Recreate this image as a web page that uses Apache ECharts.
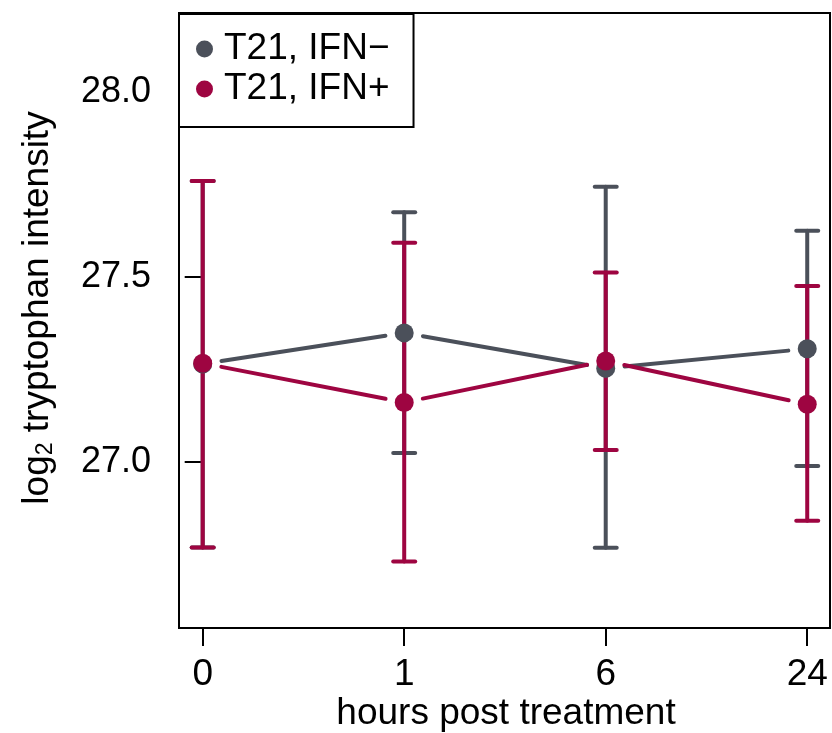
<!DOCTYPE html>
<html>
<head>
<meta charset="utf-8">
<script src="https://cdn.jsdelivr.net/npm/echarts@6/dist/echarts.min.js"></script>
<style>
  html, body { margin: 0; padding: 0; background: #fff; }
  #chart { width: 832px; height: 733px; }
</style>
</head>
<body>
<div id="chart"></div>
<script>
// hours post treatment, placed at evenly spaced positions 0..3
var hours = ['0', '1', '6', '24']
var positions = [0, 1, 2, 3]

// T21, IFN− (grey)
var minusMean = [27.265, 27.349, 27.253, 27.306]
var minusLow = [26.769, 27.024, 26.768, 26.989]
var minusHigh = [27.760, 27.675, 27.744, 27.625]

// T21, IFN+ (red)
var plusMean = [27.267, 27.161, 27.273, 27.156]
var plusLow = [26.769, 26.731, 27.032, 26.841]
var plusHigh = [27.760, 27.593, 27.512, 27.476]

var yTicks = [27.0, 27.5, 28.0]

var GREY = '#4b505a'
var RED = '#9e0541'
var FONT = 'Liberation Sans, Arial, Helvetica, sans-serif'

var chart = echarts.init(document.getElementById('chart'))

// line segments between neighbouring means, with a gap around each point
function segmentsOf(mean) {
  var out = []
  for (var i = 0; i < mean.length - 1; i++) {
    out.push([positions[i], mean[i], positions[i + 1], mean[i + 1]])
  }
  return out
}

function renderSegment(color) {
  return function(params, api) {
    var a = api.coord([api.value(0), api.value(1)])
    var b = api.coord([api.value(2), api.value(3)])
    var dx = b[0] - a[0]
    var dy = b[1] - a[1]
    var len = Math.sqrt(dx * dx + dy * dy)
    var gap = 19
    var ux = dx / len
    var uy = dy / len
    return {
      type: 'line',
      shape: {
        x1: a[0] + ux * gap, y1: a[1] + uy * gap,
        x2: b[0] - ux * gap, y2: b[1] - uy * gap
      },
      style: { stroke: color, lineWidth: 4, lineCap: 'round' }
    }
  }
}

function renderErrorBar(color) {
  return function(params, api) {
    var lo = api.coord([api.value(0), api.value(1)])
    var hi = api.coord([api.value(0), api.value(2)])
    var half = 11
    var style = { stroke: color, lineWidth: 4, lineCap: 'round' }
    return {
      type: 'group',
      children: [
        { type: 'line', shape: { x1: lo[0], y1: lo[1], x2: hi[0], y2: hi[1] }, style: style },
        { type: 'line', shape: { x1: lo[0] - half, y1: lo[1], x2: lo[0] + half, y2: lo[1] }, style: style },
        { type: 'line', shape: { x1: hi[0] - half, y1: hi[1], x2: hi[0] + half, y2: hi[1] }, style: style }
      ]
    }
  }
}

function barsOf(low, high) {
  return positions.map(function(x, i) { return [x, low[i], high[i]] })
}

function pointsOf(mean) {
  return positions.map(function(x, i) { return [x, mean[i]] })
}

var option = {
  animation: false,
  backgroundColor: '#fff',
  textStyle: { fontFamily: FONT },
  grid: {
    left: 179,
    right: 2,
    top: 13,
    bottom: 105,
    show: true,
    borderColor: '#000',
    borderWidth: 2,
    backgroundColor: 'transparent'
  },
  legend: {
    data: ['T21, IFN\u2212', 'T21, IFN+'],
    orient: 'vertical',
    left: 179,
    top: 14,
    icon: 'circle',
    itemWidth: 17,
    itemHeight: 17,
    itemGap: 0,
    padding: [15, 24, 18, 17],
    backgroundColor: '#fff',
    borderColor: '#000',
    borderWidth: 2,
    borderRadius: 0,
    selectedMode: false,
    textStyle: {
      fontFamily: FONT,
      fontSize: 37,
      lineHeight: 40,
      color: '#000',
      padding: [0, 0, 0, 6]
    }
  },
  xAxis: {
    type: 'value',
    min: -0.1176,
    max: 3.113,
    splitLine: { show: false },
    axisLine: { show: false },
    axisTick: {
      show: true,
      length: 18,
      customValues: positions,
      lineStyle: { color: '#000', width: 2 }
    },
    axisLabel: {
      customValues: positions,
      margin: 28,
      fontFamily: FONT,
      fontSize: 37,
      color: '#000',
      formatter: function(v) { return hours[Math.round(v)] }
    }
  },
  yAxis: {
    type: 'value',
    min: 26.551,
    max: 28.214,
    splitLine: { show: false },
    axisLine: { show: false },
    axisTick: {
      show: true,
      length: 18,
      customValues: yTicks,
      lineStyle: { color: '#000', width: 2 }
    },
    axisLabel: {
      customValues: yTicks,
      margin: 28,
      fontFamily: FONT,
      fontSize: 36,
      color: '#000',
      formatter: function(v) { return v.toFixed(1) }
    }
  },
  graphic: [
    {
      type: 'text',
      x: 506,
      y: 714,
      style: {
        text: 'hours post treatment',
        fontFamily: FONT,
        fontSize: 37,
        fill: '#000',
        align: 'center',
        verticalAlign: 'middle'
      }
    },
    {
      type: 'text',
      x: 38,
      y: 308,
      rotation: Math.PI / 2,
      style: {
        text: '{a|log}{s|2}{a| tryptophan intensity}',
        align: 'center',
        verticalAlign: 'middle',
        rich: {
          a: { fontFamily: FONT, fontSize: 37, fill: '#000', lineHeight: 40 },
          s: { fontFamily: FONT, fontSize: 23, fill: '#000', lineHeight: 40, padding: [16, 0, 0, 0] }
        }
      }
    }
  ],
  series: [
    {
      type: 'custom',
      name: 'minus-line',
      renderItem: renderSegment(GREY),
      data: segmentsOf(minusMean),
      encode: { x: [0, 2], y: [1, 3] },
      silent: true
    },
    {
      type: 'custom',
      name: 'minus-err',
      renderItem: renderErrorBar(GREY),
      data: barsOf(minusLow, minusHigh),
      encode: { x: 0, y: [1, 2] },
      silent: true
    },
    {
      type: 'scatter',
      name: 'T21, IFN\u2212',
      data: pointsOf(minusMean),
      symbol: 'circle',
      symbolSize: 19,
      itemStyle: { color: GREY, opacity: 1 },
      silent: true
    },
    {
      type: 'custom',
      name: 'plus-line',
      renderItem: renderSegment(RED),
      data: segmentsOf(plusMean),
      encode: { x: [0, 2], y: [1, 3] },
      silent: true
    },
    {
      type: 'custom',
      name: 'plus-err',
      renderItem: renderErrorBar(RED),
      data: barsOf(plusLow, plusHigh),
      encode: { x: 0, y: [1, 2] },
      silent: true
    },
    {
      type: 'scatter',
      name: 'T21, IFN+',
      data: pointsOf(plusMean),
      symbol: 'circle',
      symbolSize: 19,
      itemStyle: { color: RED, opacity: 1 },
      silent: true
    }
  ]
}

chart.setOption(option)
</script>
</body>
</html>
